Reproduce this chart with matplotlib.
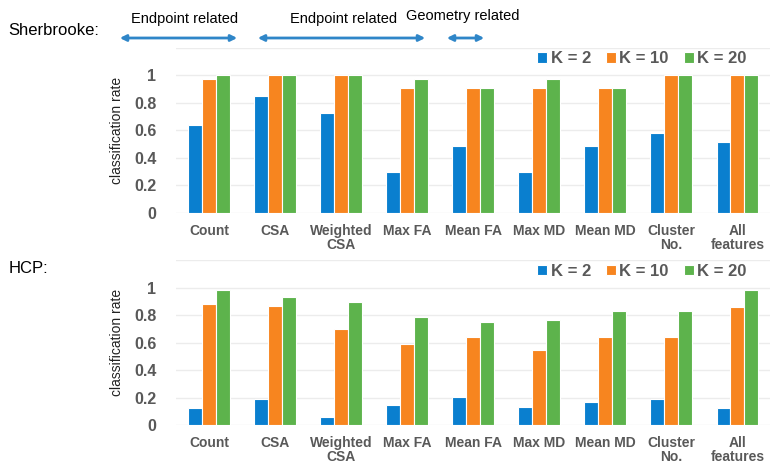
import numpy as np
import matplotlib
matplotlib.use("Agg")
import matplotlib.pyplot as plt

plt.rcParams["font.family"] = ["Liberation Sans", "DejaVu Sans"]

# ==================== 数据 ====================

features = ["Count", "CSA", "Weighted\nCSA", "Max FA", "Mean FA",
            "Max MD", "Mean MD", "Cluster\nNo.", "All\nfeatures"]
k_labels = ["K = 2", "K = 10", "K = 20"]

sherbrooke_k2 = [0.635, 0.85, 0.726, 0.30, 0.487, 0.30, 0.487, 0.577, 0.516]
sherbrooke_k10 = [0.97, 1.0, 1.0, 0.91, 0.91, 0.91, 0.91, 1.0, 1.0]
sherbrooke_k20 = [1.0, 1.0, 1.0, 0.97, 0.91, 0.97, 0.91, 1.0, 1.0]

hcp_k2 = [0.124, 0.189, 0.058, 0.146, 0.206, 0.133, 0.167, 0.189, 0.124]
hcp_k10 = [0.885, 0.864, 0.70, 0.59, 0.64, 0.546, 0.64, 0.64, 0.862]
hcp_k20 = [0.983, 0.93, 0.894, 0.79, 0.748, 0.767, 0.828, 0.828, 0.983]

colors = ["#0a7fcf", "#f7851f", "#5db34c"]
TICK_GRAY = "#595959"
ARROW_BLUE = "#2f86c8"


def draw_panel(ax, series):
    x = np.arange(len(features))
    w = 0.21
    for i, (vals, c, lab) in enumerate(zip(series, colors, k_labels)):
        ax.bar(x + (i - 1) * w, vals, width=w, color=c, edgecolor="white",
               linewidth=0.8, label=lab, zorder=3)
    ax.set_xlim(-0.5, len(features) - 0.5)
    ax.set_ylim(0, 1.2)
    ax.set_yticks(np.arange(0, 1.21, 0.2))
    ax.set_yticklabels(["0", "0.2", "0.4", "0.6", "0.8", "1", ""])
    ax.set_xticks(x)
    ax.set_xticklabels(features, fontsize=10, fontweight="bold",
                       color=TICK_GRAY, linespacing=1.0)
    ax.tick_params(axis="y", length=0, pad=14, labelsize=11.5,
                   labelcolor=TICK_GRAY)
    for t in ax.get_yticklabels():
        t.set_fontweight("bold")
    ax.tick_params(axis="x", length=0, pad=8)
    ax.grid(axis="y", color="#ececec", linewidth=1, zorder=0)
    for s in ax.spines.values():
        s.set_visible(False)
    ax.set_ylabel("classification rate", fontsize=10, color="#222222",
                  labelpad=7)
    ax.legend(loc="upper right", bbox_to_anchor=(0.985, 1.07), ncol=3,
              frameon=False, handlelength=0.6, handleheight=0.6,
              handletextpad=0.2, columnspacing=0.9,
              prop={"size": 12, "weight": "bold"}, labelcolor=TICK_GRAY)


fig = plt.figure(figsize=(7.75, 4.72), dpi=100)
ax_top = fig.add_axes([0.227, 0.549, 0.767, 0.350])
ax_bot = fig.add_axes([0.227, 0.0996, 0.767, 0.349])

draw_panel(ax_top, [sherbrooke_k2, sherbrooke_k10, sherbrooke_k20])
draw_panel(ax_bot, [hcp_k2, hcp_k10, hcp_k20])

fig.text(0.011, 0.936, "Sherbrooke:", fontsize=12, va="center", ha="left")
fig.text(0.011, 0.432, "HCP:", fontsize=12, va="center", ha="left")

# 顶部分组箭头
W, H = 775, 472
groups = [
    ("Endpoint related", 117, 240, 185, 19),
    ("Endpoint related", 255, 428, 344, 19),
    ("Geometry related", 444, 487, 463, 16),
]
for text, x0, x1, xt, yt in groups:
    fig.text(xt / W, 1 - yt / H, text, fontsize=10.5, ha="center", va="center")
    fig.add_artist(matplotlib.patches.FancyArrowPatch(
        (x0 / W, 1 - 38 / H), (x1 / W, 1 - 38 / H),
        transform=fig.transFigure, arrowstyle="<|-|>", mutation_scale=9,
        color=ARROW_BLUE, linewidth=2))

fig.savefig("out.png", dpi=100)
